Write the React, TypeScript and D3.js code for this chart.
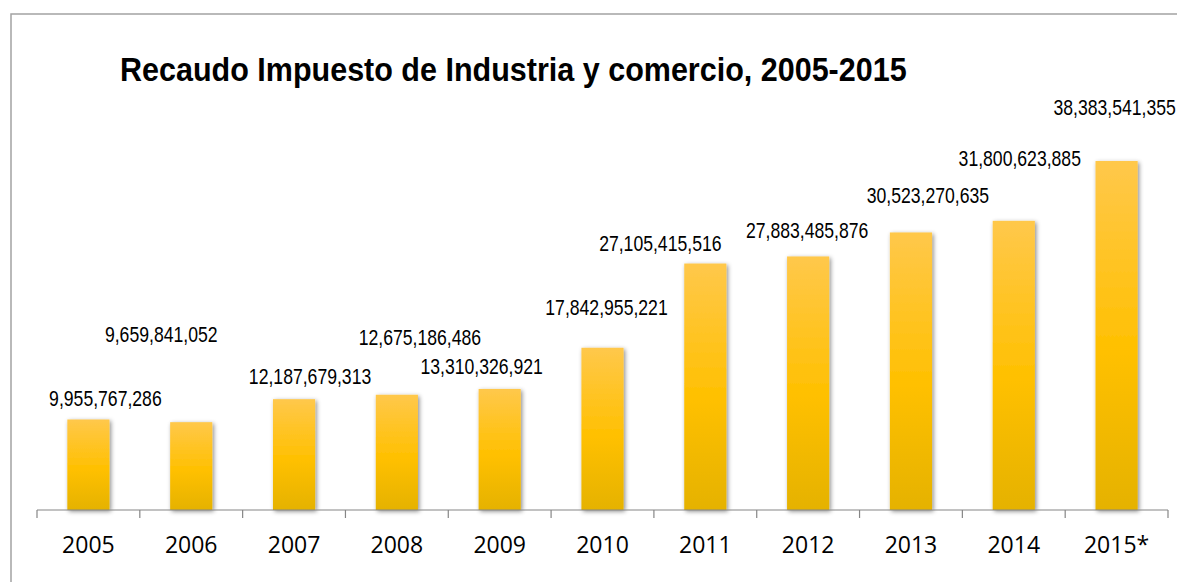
import React from "react";
import * as d3 from "d3";

const years = ["2005", "2006", "2007", "2008", "2009", "2010", "2011", "2012", "2013", "2014", "2015*"];
const recaudo = [
  9955767286, 9659841052, 12187679313, 12675186486, 13310326921, 17842955221,
  27105415516, 27883485876, 30523270635, 31800623885, 38383541355,
];
// manual label nudges (as placed in the original chart), px
const labelDx = [17, -30, 16, 23, -18, 4, -45, -1, 17, 6, -2];
const labelDy = [13, 80, 15, 50, 15, 33, 13, 18, 29, 55, 46];

const W = 1177;
const H = 582;
const margin = { left: 37, right: 9 };
const baseY = 510;
const narrow = 0.79;

export default function App() {
  const x = d3
    .scaleBand<string>()
    .domain(years)
    .range([margin.left, W - margin.right])
    .paddingInner(0.59)
    .paddingOuter(0.295);
  const y = d3.scaleLinear().domain([0, 40e9]).range([baseY, baseY - 40 * 9.093]);
  const fmt = d3.format(",");
  const stepW = (W - margin.right - margin.left) / years.length;
  const bounds = d3.range(years.length + 1).map((i) => margin.left + i * stepW);

  return (
    <svg
      width={W}
      height={H}
      style={{ position: "absolute", left: 0, top: 0, background: "#fff" }}
    >
      <defs>
        <linearGradient id="barGrad" x1="0" y1="0" x2="0" y2="1">
          <stop offset="0" stopColor="#FFC84B" />
          <stop offset="0.55" stopColor="#FFC000" />
          <stop offset="1" stopColor="#E5B200" />
        </linearGradient>
        <filter id="shadow" x="-30%" y="-10%" width="160%" height="120%">
          <feDropShadow dx="1.5" dy="1.5" stdDeviation="2.2" floodColor="#000" floodOpacity="0.45" />
        </filter>
      </defs>
      <rect x={0} y={0} width={W} height={H} fill="#fff" />
      <path d={`M11,${H + 5} L11,14 L${W + 5},14`} fill="none" stroke="#a3a3a3" strokeWidth={1.5} />
      <text
        transform={`translate(120,81) scale(0.925,1)`}
        fontFamily="'Liberation Sans', Arial, sans-serif"
        fontWeight="bold"
        fontSize={33}
        fill="#000"
      >
        Recaudo Impuesto de Industria y comercio, 2005-2015
      </text>
      <g>
        {years.map((yr, i) => (
          <rect
            key={yr}
            x={x(yr)}
            y={y(recaudo[i])}
            width={x.bandwidth()}
            height={baseY - y(recaudo[i])}
            fill="url(#barGrad)"
            filter="url(#shadow)"
          />
        ))}
      </g>
      <g>
        <line x1={bounds[0]} x2={bounds[bounds.length - 1]} y1={baseY} y2={baseY} stroke="#868686" strokeWidth={1.2} />
        {bounds.map((bx, i) => (
          <line key={i} x1={bx} x2={bx} y1={baseY} y2={baseY + 8} stroke="#868686" strokeWidth={1.2} />
        ))}
        {years.map((yr) => (
          <text
            key={yr}
            x={(x(yr) as number) + x.bandwidth() / 2}
            y={553}
            textAnchor="middle"
            fontFamily="'Open Sans', sans-serif"
            fontSize={23}
            fill="#000"
          >
            {yr}
          </text>
        ))}
      </g>
      <g>
        {years.map((yr, i) => (
          <text
            key={yr}
            transform={`translate(${(x(yr) as number) + x.bandwidth() / 2 + labelDx[i]},${y(recaudo[i]) - labelDy[i]}) scale(${narrow},1)`}
            textAnchor="middle"
            fontFamily="'Liberation Sans', Arial, sans-serif"
            fontSize={22.3}
            fill="#000"
          >
            {fmt(recaudo[i])}
          </text>
        ))}
      </g>
    </svg>
  );
}
